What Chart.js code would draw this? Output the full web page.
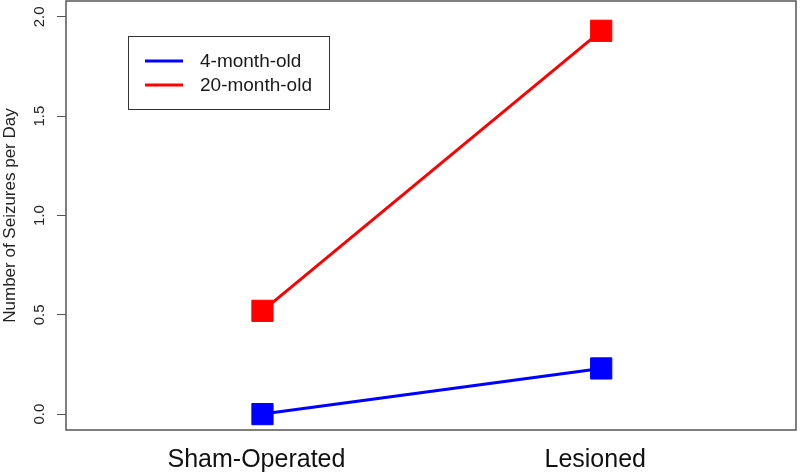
<!DOCTYPE html>
<html>
<head>
<meta charset="utf-8">
<script src="https://cdn.jsdelivr.net/npm/chart.js@4"></script>
<style>
  html, body { margin: 0; padding: 0; background: #fff; }
  #wrap { width: 800px; height: 473px; }
</style>
</head>
<body>
<div id="wrap"><canvas id="seizureChart"></canvas></div>
<script>
const groups = ['Sham-Operated', 'Lesioned']
const youngSeizures = [0.0, 0.23]
const oldSeizures = [0.52, 1.93]
const yTicks = [0, 0.5, 1, 1.5, 2]

const toPoints = vals => vals.map((v, i) => ({ x: i + 1, y: v }))

// no extra room for tick labels at the ends, R style
const noEndPadding = axis => {
  axis.paddingTop = 0
  axis.paddingBottom = 0
  axis.paddingLeft = 0
  axis.paddingRight = 0
}

// box around the plot + legend, like base R graphics
const boxPlugin = {
  id: 'box',
  afterDraw(chart) {
    const { ctx, chartArea: a } = chart
    ctx.save()
    ctx.strokeStyle = '#555'
    ctx.lineWidth = 1.5
    ctx.strokeRect(a.left, a.top, a.right - a.left, a.bottom - a.top)

    // legend
    ctx.lineWidth = 1
    ctx.strokeStyle = '#333'
    ctx.strokeRect(128.5, 36.5, 201, 73)
    ctx.font = '19px Arial, "Liberation Sans"'
    ctx.textBaseline = 'middle'
    ctx.fillStyle = '#1a1a1a'
    chart.data.datasets.forEach((ds, i) => {
      const y = 61 + i * 24
      ctx.strokeStyle = ds.borderColor
      ctx.lineWidth = 3
      ctx.beginPath()
      ctx.moveTo(145, y)
      ctx.lineTo(183, y)
      ctx.stroke()
      ctx.fillText(ds.label, 200, y + 1)
    })
    ctx.restore()
  }
}

const myChart = new Chart(
  document.getElementById('seizureChart'),
  {
    type: 'line',
    data: {
      datasets: [
        {
          label: '4-month-old',
          data: toPoints(youngSeizures),
          borderColor: '#0000FF',
          backgroundColor: '#0000FF',
          borderWidth: 3,
          pointStyle: 'rect',
          pointRadius: 15,
          pointBorderWidth: 1
        },
        {
          label: '20-month-old',
          data: toPoints(oldSeizures),
          borderColor: '#FF0000',
          backgroundColor: '#FF0000',
          borderWidth: 3,
          pointStyle: 'rect',
          pointRadius: 15,
          pointBorderWidth: 1
        }
      ]
    },
    options: {
      responsive: true,
      maintainAspectRatio: false,
      animation: false,
      clip: false,
      layout: { autoPadding: false, padding: { top: 1, right: 4, left: 0, bottom: 0 } },
      plugins: {
        legend: { display: false },
        tooltip: { enabled: false }
      },
      scales: {
        x: {
          type: 'linear',
          min: 0.42,
          max: 2.575,
          afterBuildTicks: axis => { axis.ticks = groups.map((g, i) => ({ value: i + 1 })) },
          afterFit: axis => { axis.height = 43; noEndPadding(axis) },
          grid: { display: false, drawTicks: false },
          border: { display: false },
          ticks: {
            callback: v => groups[v - 1],
            font: { family: 'Arial, "Liberation Sans"', size: 25 },
            color: '#111',
            padding: 15,
            labelOffset: -6,
            maxRotation: 0
          }
        },
        y: {
          min: -0.08,
          max: 2.08,
          afterBuildTicks: axis => { axis.ticks = yTicks.map(v => ({ value: v })) },
          afterFit: axis => { axis.width = 66; noEndPadding(axis) },
          grid: { drawOnChartArea: false, drawTicks: true, tickLength: 9, color: '#555', lineWidth: 1 },
          border: { display: false },
          ticks: {
            callback: v => v.toFixed(1),
            font: { family: 'Arial, "Liberation Sans"', size: 15 },
            color: '#222',
            minRotation: 90,
            maxRotation: 90,
            crossAlign: 'center',
            padding: 7
          },
          title: {
            display: true,
            text: 'Number of Seizures per Day',
            font: { family: 'Arial, "Liberation Sans"', size: 17 },
            color: '#222',
            padding: 0
          }
        }
      }
    },
    plugins: [boxPlugin]
  }
)

myChart.render()
</script>
</body>
</html>
